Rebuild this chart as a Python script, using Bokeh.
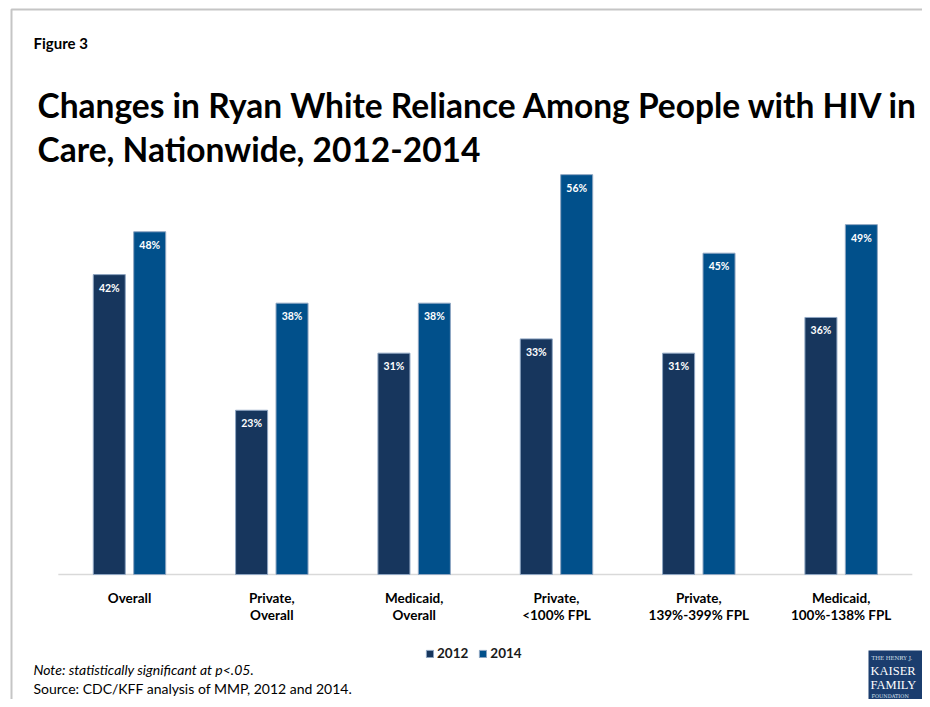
from bokeh.plotting import figure
from bokeh.models import (ColumnDataSource, Range1d, Label, Legend, LegendItem,
                          BoxAnnotation)
from bokeh.core.properties import value
from bokeh.transform import dodge
from bokeh.embed import file_html
from bokeh.resources import INLINE

# ---- data ----
categories = ["Overall", "Private,\nOverall", "Medicaid,\nOverall",
              "Private,\n<100% FPL", "Private,\n139%-399% FPL", "Medicaid,\n100%-138% FPL"]
vals_2012 = [42, 23, 31, 33, 31, 36]
vals_2014 = [48, 38, 38, 56, 45, 49]
series_names = ["2012", "2014"]

title_line1 = "Changes in Ryan White Reliance Among People with HIV in"
title_line2 = "Care, Nationwide, 2012-2014"
figure_label = "Figure 3"
note_text = "Note: statistically significant at p<.05."
source_text = "Source: CDC/KFF analysis of MMP, 2012 and 2014."

C2012 = "#17365d"
C2014 = "#01508b"
FONT = "Lato"

n = len(categories)
idx = list(range(n))
src = ColumnDataSource(dict(
    i=idx,
    cat=categories,
    v12=vals_2012,
    v14=vals_2014,
    t12=[f"{v}%" for v in vals_2012],
    t14=[f"{v}%" for v in vals_2014],
))

W, H = 922, 699
# the plot frame covers the whole canvas; scales are set so that category slots
# are 142.33 px wide and 1 percentage point is 7.14 px
x0 = -0.9063
y0 = -17.507
p = figure(width=W, height=H,
           x_range=Range1d(x0, x0 + W / 142.33),
           y_range=Range1d(y0, y0 + H / 7.14),
           output_backend="svg", toolbar_location=None,
           x_axis_location=None, y_axis_location=None,
           min_border=0, min_border_left=0, min_border_right=0,
           min_border_top=0, min_border_bottom=0)
p.outline_line_color = None
p.background_fill_color = "white"
p.border_fill_color = "white"
p.xgrid.visible = False
p.ygrid.visible = False

# baseline (category axis line)
p.line(x=[-0.5, n - 0.5], y=[0, 0], line_color="#d9d9d9", line_width=1.5)

r12 = p.vbar(x=dodge("i", -0.142), top="v12", width=0.225, bottom=0,
             source=src, fill_color=C2012, line_color="#8fa6c2", line_width=1)
r14 = p.vbar(x=dodge("i", 0.142), top="v14", width=0.225, bottom=0,
             source=src, fill_color=C2014, line_color="#8fa6c2", line_width=1)

for tcol, vcol, off in (("t12", "v12", -0.142), ("t14", "v14", 0.142)):
    p.text(x=dodge("i", off), y=vcol, text=tcol, source=src,
           text_color="white", text_font_size="10.5px", text_font_style="bold",
           text_font=value(FONT), text_align="center", text_baseline="middle",
           y_offset=13)

# category labels under the baseline
p.text(x="i", y=0, text="cat", source=src, text_color="black",
       text_font=value(FONT), text_font_size="13.5px", text_font_style="bold",
       text_align="center", text_baseline="top", text_line_height=1.1,
       y_offset=15)

legend = Legend(items=[LegendItem(label=series_names[0], renderers=[r12]),
                       LegendItem(label=series_names[1], renderers=[r14])],
                orientation="horizontal", location=(425, 38))
legend.glyph_width = 9
legend.glyph_height = 9
legend.label_standoff = 3
legend.spacing = 10
legend.padding = 0
legend.margin = 0
legend.border_line_color = None
legend.background_fill_alpha = 0
legend.label_text_font = FONT
legend.label_text_font_size = "13.5px"
legend.label_text_font_style = "bold"
legend.label_text_color = "#1a1a1a"
p.add_layout(legend, "center")


def lab(text, ix, iy, size, style="normal", color="black", font=FONT, baseline="alphabetic"):
    l = Label(x=ix, y=H - iy, x_units="screen", y_units="screen", text=text,
              text_font=font, text_font_size=size, text_font_style=style,
              text_color=color, text_baseline=baseline, text_align="left")
    p.add_layout(l)
    return l


lab(figure_label, 33, 42, "15px", "bold")
lab(title_line1, 37, 104, "33.5px", "bold")
lab(title_line2, 37, 148, "33.5px", "bold")
lab(note_text, 33, 669, "14px", "italic", baseline="middle")
lab(source_text, 33, 688, "14px", baseline="middle")

# frame border
p.add_layout(BoxAnnotation(left=11, right=W + 40, top=H - 9, bottom=-40,
                           left_units="screen", right_units="screen",
                           top_units="screen", bottom_units="screen",
                           fill_alpha=0, line_color="#404040", line_width=2))
# logo
p.add_layout(BoxAnnotation(left=868, right=W + 40, top=H - 650, bottom=H - 703,
                           left_units="screen", right_units="screen",
                           top_units="screen", bottom_units="screen",
                           fill_color="#1b3d6e", fill_alpha=1, line_color=None))
lab("THE HENRY J.", 871, 657, "5.5px", color="#dfe6ef", font="DejaVu Serif", baseline="middle")
lab("KAISER", 870, 670, "12.5px", color="white", font="Liberation Serif", baseline="middle")
lab("FAMILY", 870, 684, "12.5px", color="white", font="Liberation Serif", baseline="middle")
lab("FOUNDATION", 871, 695, "5px", color="#dfe6ef", font="DejaVu Serif", baseline="middle")

open("out.html", "w").write(file_html(p, INLINE))
